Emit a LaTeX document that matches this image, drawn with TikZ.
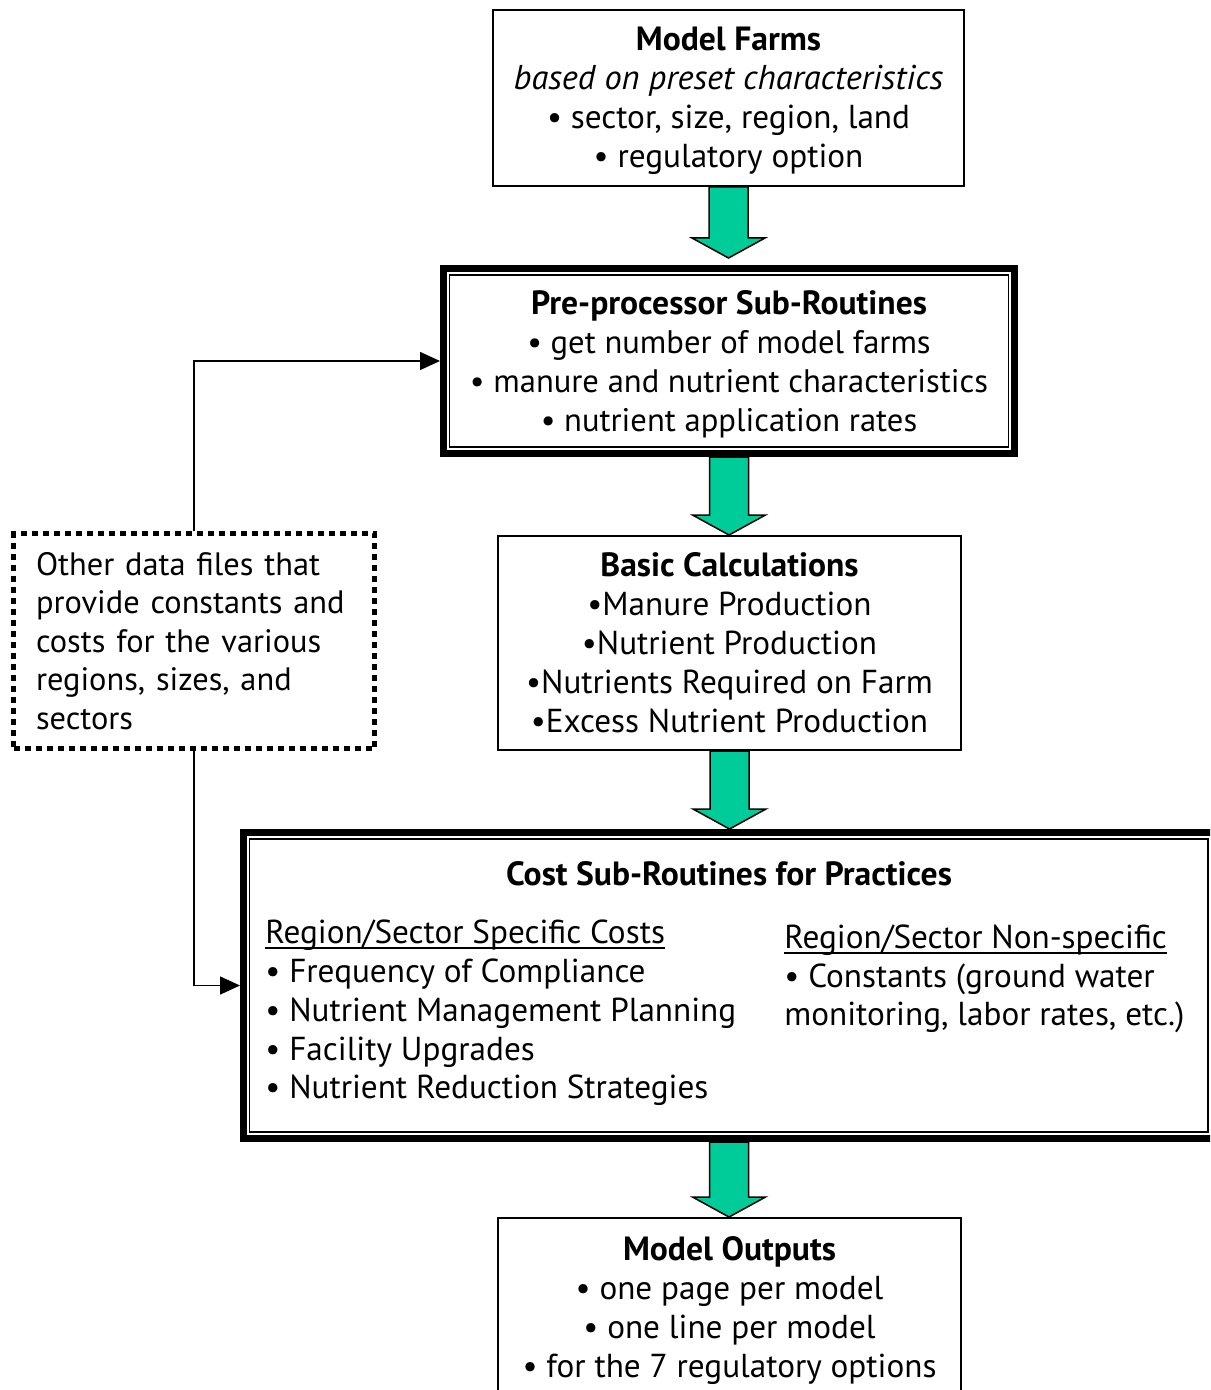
\documentclass[tikz,border=0pt]{standalone}
\usepackage{fontspec}
\setmainfont{PT Sans}
\usetikzlibrary{arrows.meta,calc}
\definecolor{arrowgreen}{HTML}{00CC99}
\newcommand\blockarrow[2]{%
  \filldraw[fill=arrowgreen, draw=black, line width=0.75pt]
    let \p1=(#1), \p2=(#2) in
    (\x1-9.75pt,\y1) -- (\x1+9.75pt,\y1) -- (\x1+9.75pt,\y2+10pt) --
    (\x1+18.25pt,\y2+10pt) -- (\x1,\y2) -- (\x1-18.25pt,\y2+10pt) --
    (\x1-9.75pt,\y2+10pt) -- cycle;}
\newcommand\myul[1]{\setbox0\hbox{#1}\rlap{\rule[-2.8pt]{\wd0}{1pt}}\box0}
\newcommand\ttl[1]{{\fontsize{16.8}{19.5}\selectfont\bfseries #1}}
\newcommand\firststrut{\rule{0pt}{15pt}}
\begin{document}
\begin{tikzpicture}[x=0.5pt,y=-0.5pt,
  txt/.style={font=\fontsize{16.6}{19.5}\selectfont},
  pretxt/.style={font=\fontsize{16.3}{19.5}\selectfont},
  costtxt/.style={font=\fontsize{16.6}{19.4}\selectfont},
  plainbox/.style={draw, line width=1pt, align=center, inner sep=0pt, txt},
  thickbox/.style={draw, line width=3.5pt, inner sep=0pt, txt},
  dotbox/.style={draw, line width=2.5pt, dash pattern=on 3pt off 2.5pt,
    align=left, inner xsep=11.25pt, inner ysep=0pt, text width=158pt,
    font=\fontsize{16.2}{19.3}\selectfont},
  conn/.style={line width=0.75pt, -{Triangle[length=10pt,width=9pt]}},
  innerline/.style={line width=0.8pt}]
\clip (0,0) rectangle (1210,1390);
\fill[white] (0,0) rectangle (1210,1390);

\node[plainbox, minimum width=235.5pt, minimum height=88pt] (farms) at (728.5,98)
  {\firststrut\ttl{Model Farms}\\ {\fontsize{17.2}{19.5}\selectfont\itshape based on preset characteristics}\\
   • sector, size, region, land\\ • regulatory option};

\node[thickbox, pretxt, align=center, minimum width=285.5pt, minimum height=92.5pt] (pre) at (729,361)
  {\firststrut\ttl{Pre-processor Sub-Routines}\\ • get number of model farms\\
   • manure and nutrient characteristics\\ • nutrient application rates};
\draw[innerline] ([shift={(9.5,10)}]pre.north west) rectangle ([shift={(-9.5,-10)}]pre.south east);

\node[plainbox, minimum width=231.5pt, minimum height=107pt] (basic) at (729.5,643)
  {\ttl{Basic Calculations}\\ •Manure Production\\ •Nutrient Production\\
   •Nutrients Required on Farm\\ •Excess Nutrient Production};

\node[thickbox, minimum width=485.5pt, minimum height=153pt] (cost) at (729,985.5) {};
\draw[innerline] ([shift={(9.5,10)}]cost.north west) rectangle ([shift={(-10,-10)}]cost.south east);
\node[costtxt, inner sep=0pt] (costtitle) at (729,874) {\ttl{Cost Sub-Routines for Practices}};
\node[costtxt, align=left, anchor=west, inner sep=0pt] (costleft) at (265,1013)
  {\myul{Region/Sector Specific Costs}\\ • Frequency of Compliance\\
   • Nutrient Management Planning\\ • Facility Upgrades\\ • Nutrient Reduction Strategies};
\node[costtxt, align=left, anchor=west, inner sep=0pt] (costright) at (784,979)
  {\myul{Region/Sector Non-specific}\\ • Constants (ground water\\
   monitoring, labor rates, etc.)};

\node[plainbox, minimum width=231.5pt, minimum height=90pt] (out) at (729.5,1308)
  {\firststrut\ttl{Model Outputs}\\ • one page per model\\ • one line per model\\
   • for the 7 regulatory options};

\node[dotbox, minimum width=177.5pt, minimum height=107.5pt] (other) at (194,641)
  {Other data files that\\ provide constants and\\ costs for the various\\
   regions, sizes, and\\ sectors};

\blockarrow{farms.south}{[yshift=3.5pt]pre.north}
\blockarrow{pre.south}{basic.north}
\blockarrow{basic.south}{cost.north}
\blockarrow{cost.south}{out.north}

\draw[conn] (other.north) |- (pre.west);
\draw[conn] (other.south) |- (cost.west);
\end{tikzpicture}
\end{document}
